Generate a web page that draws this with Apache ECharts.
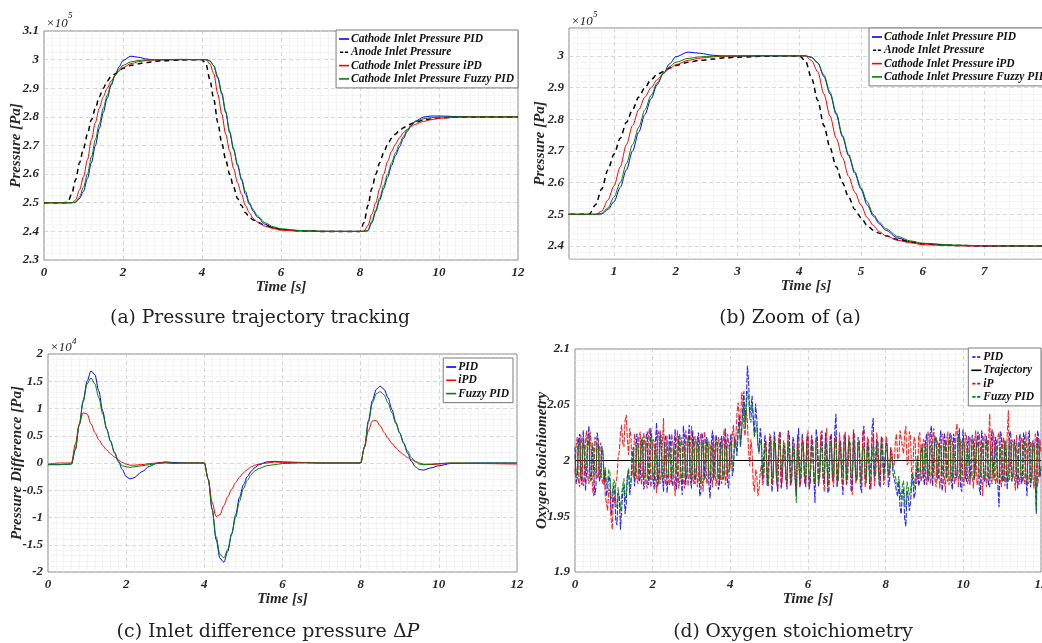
<!DOCTYPE html>
<html><head><meta charset="utf-8">
<script src="https://cdn.jsdelivr.net/npm/echarts@6/dist/echarts.min.js"></script>
<style>html,body{margin:0;padding:0;background:#fff}#c{width:1042px;height:643px}</style>
</head><body><div id="c"></div>
<script>
// ---------- Panel (a)/(b): pressures, x10^5 Pa ----------
const tP = [0,0.5,0.6,0.7,0.8,0.9,1.0,1.1,1.2,1.3,1.4,1.5,1.6,1.7,1.8,1.9,2.0,2.2,2.4,2.6,2.8,3.0,3.5,4.0,4.1,4.2,4.3,4.4,4.5,4.6,4.7,4.8,4.9,5.0,5.1,5.2,5.3,5.4,5.6,5.8,6.0,6.5,7.0,7.5,8.0,8.1,8.2,8.3,8.4,8.5,8.6,8.7,8.8,8.9,9.0,9.1,9.2,9.3,9.4,9.6,9.8,10.0,10.5,11,12];
const pPID   = [2.5,2.5,2.5,2.5,2.501,2.515,2.54,2.585,2.64,2.70,2.76,2.815,2.865,2.91,2.945,2.975,2.997,3.012,3.008,3.002,2.999,2.999,3.0,3.0,3.0,2.996,2.978,2.935,2.88,2.815,2.745,2.685,2.63,2.58,2.53,2.495,2.47,2.45,2.425,2.413,2.407,2.402,2.4,2.4,2.4,2.4,2.402,2.43,2.47,2.51,2.55,2.59,2.63,2.665,2.695,2.725,2.75,2.77,2.785,2.799,2.803,2.803,2.801,2.8,2.8];
const pAnode = [2.5,2.5,2.501,2.53,2.58,2.64,2.69,2.74,2.79,2.83,2.87,2.90,2.925,2.942,2.95,2.962,2.97,2.98,2.986,2.99,2.994,2.996,2.999,3.0,2.985,2.93,2.86,2.78,2.71,2.65,2.60,2.555,2.515,2.49,2.465,2.45,2.44,2.432,2.42,2.413,2.406,2.402,2.4,2.4,2.4,2.43,2.49,2.55,2.60,2.64,2.675,2.705,2.725,2.74,2.752,2.762,2.77,2.776,2.781,2.788,2.793,2.796,2.799,2.8,2.8];
const pIPD   = [2.5,2.5,2.5,2.5,2.51,2.545,2.59,2.65,2.72,2.78,2.83,2.87,2.90,2.925,2.945,2.96,2.972,2.986,2.993,2.997,2.999,3.0,3.001,3.0,3.0,2.985,2.95,2.88,2.81,2.74,2.68,2.62,2.57,2.53,2.49,2.465,2.445,2.433,2.418,2.41,2.404,2.401,2.4,2.4,2.4,2.401,2.42,2.46,2.50,2.55,2.60,2.645,2.68,2.705,2.727,2.745,2.757,2.767,2.774,2.784,2.79,2.795,2.799,2.8,2.8];
const pFuzzy = [2.5,2.5,2.5,2.5,2.503,2.52,2.555,2.60,2.66,2.72,2.775,2.83,2.875,2.915,2.945,2.966,2.98,2.992,2.997,2.999,3.0,3.0,3.0,3.0,3.0,2.995,2.978,2.94,2.885,2.82,2.75,2.69,2.635,2.585,2.54,2.5,2.475,2.455,2.43,2.416,2.409,2.403,2.401,2.4,2.4,2.4,2.404,2.435,2.475,2.517,2.56,2.60,2.64,2.675,2.705,2.732,2.755,2.772,2.783,2.793,2.797,2.799,2.8,2.8,2.8];
const namesA = ['Cathode Inlet Pressure PID','Anode Inlet Pressure','Cathode Inlet Pressure iPD','Cathode Inlet Pressure Fuzzy PID'];

// ---------- Panel (c): pressure difference, x10^4 Pa ----------
const tD = [0,0.3,0.6,0.7,0.8,0.9,1.0,1.1,1.2,1.3,1.4,1.5,1.6,1.7,1.8,1.9,2.0,2.1,2.2,2.4,2.6,2.8,3.0,3.2,3.5,4.0,4.1,4.2,4.3,4.4,4.5,4.6,4.7,4.8,4.9,5.0,5.1,5.2,5.3,5.4,5.6,5.8,6.0,6.5,7.0,7.5,8.0,8.1,8.2,8.3,8.4,8.5,8.6,8.7,8.8,8.9,9.0,9.1,9.2,9.3,9.4,9.5,9.6,9.8,10.0,10.3,11,12];
const dPID   = [-0.03,-0.03,-0.02,0.25,0.7,1.15,1.5,1.69,1.62,1.32,0.95,0.63,0.4,0.2,0.04,-0.12,-0.25,-0.29,-0.27,-0.16,-0.06,0.0,0.02,0.01,0.0,0.0,-0.3,-0.85,-1.4,-1.75,-1.82,-1.62,-1.3,-0.95,-0.63,-0.4,-0.25,-0.15,-0.08,-0.03,0.02,0.03,0.02,0.01,0.0,0.0,0.0,0.3,0.78,1.15,1.35,1.41,1.35,1.2,0.98,0.75,0.55,0.36,0.18,0.03,-0.07,-0.12,-0.13,-0.09,-0.05,-0.01,0.0,0.0];
const dIPD   = [-0.02,0.0,0.0,0.35,0.72,0.92,0.9,0.72,0.56,0.43,0.32,0.24,0.17,0.11,0.06,0.01,-0.02,-0.04,-0.04,-0.03,-0.01,0.0,0.01,-0.01,0.0,0.0,-0.3,-0.72,-0.98,-0.95,-0.78,-0.62,-0.48,-0.36,-0.26,-0.18,-0.12,-0.07,-0.04,-0.02,0.0,0.02,0.01,0.01,0.0,0.0,0.0,0.3,0.6,0.77,0.78,0.68,0.56,0.45,0.36,0.28,0.21,0.15,0.1,0.06,0.03,0.0,-0.02,-0.03,-0.02,0.0,-0.01,-0.02];
const dFuzzy = [-0.03,-0.03,-0.02,0.25,0.7,1.12,1.45,1.56,1.45,1.2,0.9,0.62,0.4,0.18,0.02,-0.05,-0.07,-0.08,-0.07,-0.05,-0.03,-0.01,0.0,0.0,0.0,0.0,-0.3,-0.85,-1.35,-1.68,-1.74,-1.58,-1.3,-1.0,-0.7,-0.47,-0.32,-0.21,-0.14,-0.1,-0.05,-0.03,-0.01,0.0,0.0,0.0,0.0,0.3,0.75,1.1,1.27,1.31,1.25,1.1,0.92,0.72,0.55,0.37,0.22,0.1,0.02,-0.02,-0.03,-0.02,-0.01,0.0,0.0,0.0];

// ---------- Panel (d): oxygen stoichiometry ----------
// "A" samples at t = 0, 0.06, 0.12 ... 12 s; "B" samples at t = 0.03, 0.09 ... 11.97 s
const o2Start = 0, o2Step = 0.06, o2Half = 0.03;
const o2PID = [2.012,1.985,2.024,1.978,2.008,1.991,2.031,1.982,2.015,1.976,
2.018,1.988,2.006,1.992,1.975,1.982,1.958,1.972,1.942,1.968,
1.955,1.978,1.962,1.991,1.978,2.012,1.988,2.021,1.984,2.015,
1.979,2.026,1.986,2.019,1.974,2.034,1.989,2.011,1.972,2.023,
1.983,2.017,1.977,2.028,1.985,2.009,1.969,2.021,1.988,2.032,
1.975,2.014,1.987,2.025,1.971,2.018,1.984,2.012,1.966,2.027,
1.982,2.016,1.978,2.022,1.986,2.013,1.975,2.024,1.992,2.018,
2.028,2.012,2.048,2.035,2.085,2.041,2.058,2.022,2.038,2.008,
2.019,1.984,2.012,1.976,2.021,1.981,2.015,1.972,2.026,1.987,
2.011,1.974,2.023,1.982,2.017,1.968,2.029,1.985,2.014,1.977,
2.022,1.981,2.016,1.962,2.019,1.986,2.027,1.979,2.013,1.973,
2.024,1.984,2.042,1.977,2.018,1.969,2.021,1.988,2.015,1.975,
2.026,1.982,2.017,1.971,2.031,1.986,2.013,1.979,2.038,1.984,
2.016,1.976,2.023,1.985,2.012,1.981,2.005,1.988,1.972,1.981,
1.952,1.975,1.941,1.968,1.962,1.985,1.971,1.998,1.982,2.015,
1.978,2.024,1.985,2.031,1.976,2.019,1.984,2.027,1.979,2.016,
1.983,2.025,1.974,2.018,1.987,2.029,1.972,2.014,1.981,2.022,
1.977,2.017,1.985,2.026,1.969,2.021,1.983,2.012,1.976,2.028,
1.984,2.015,1.958,2.023,1.981,2.018,1.973,2.026,1.986,2.013,
1.975,2.024,1.982,2.019,1.968,2.027,1.985,2.016,1.952,2.021,1.992];
const o2PIDb = [1.979,2.018,1.986,2.027,1.973,2.021,1.988,2.014,1.969,2.025,
1.981,2.013,1.978,1.968,1.986,1.951,1.977,1.946,1.971,1.938,
1.973,1.952,1.986,1.969,2.003,1.977,2.024,1.981,2.019,1.974,
2.021,1.978,2.029,1.983,2.016,1.976,2.027,1.985,2.018,1.971,
2.024,1.981,2.013,1.974,2.022,1.987,2.031,1.978,2.016,1.983,
2.027,1.979,2.019,1.968,2.025,1.984,2.021,1.977,2.016,1.982,
2.023,1.974,2.018,1.983,2.029,1.979,2.015,1.986,2.021,2.004,
2.041,2.026,2.062,2.052,2.071,2.047,2.036,2.051,2.015,2.029,
1.983,2.023,1.977,2.018,1.972,2.026,1.984,2.019,1.975,2.014,
1.985,2.027,1.978,2.021,1.983,2.016,1.976,2.024,1.981,2.019,
1.974,2.022,1.985,2.028,1.977,2.017,1.983,2.025,1.971,2.019,
1.982,2.027,1.976,2.014,1.985,2.023,1.979,2.018,1.972,2.026,
1.986,2.021,1.977,2.024,1.983,2.016,1.974,2.029,1.985,2.019,
1.979,2.022,1.984,2.017,1.976,2.011,1.988,1.979,1.968,1.958,
1.971,1.947,1.973,1.955,1.979,1.966,1.988,1.977,2.008,1.985,
2.019,1.981,2.026,1.977,2.022,1.986,2.018,1.973,2.025,1.984,
2.017,1.979,2.024,1.982,2.021,1.976,2.028,1.985,2.016,1.978,
2.023,1.984,2.019,1.975,2.027,1.981,2.022,1.978,2.016,1.985,
2.021,1.977,2.026,1.983,2.018,1.974,2.024,1.981,2.019,1.986,
2.017,1.979,2.025,1.984,2.022,1.976,2.018,1.983,2.027,1.985];
const o2IP = [1.988,2.021,1.976,2.015,1.983,2.027,1.979,2.012,1.968,2.019,
1.984,2.016,1.979,1.968,1.955,1.972,1.938,1.962,1.985,2.008,
2.032,2.012,2.041,2.005,2.022,1.985,2.018,1.979,2.026,1.988,
2.014,1.975,2.029,1.983,2.017,1.971,2.024,1.986,2.038,1.978,
2.021,1.982,2.015,1.968,2.027,1.984,2.012,1.975,2.019,1.987,
2.031,1.979,2.016,1.985,2.024,1.972,2.018,1.981,2.013,1.976,
2.022,1.984,2.017,1.979,2.028,1.986,2.015,2.004,2.032,2.018,
2.052,2.031,2.058,2.022,2.035,1.995,2.008,1.972,1.988,1.975,
1.996,1.982,2.018,1.977,2.021,1.986,2.012,1.973,2.026,1.984,
2.015,1.978,2.022,1.985,2.017,1.971,2.024,1.982,2.013,1.976,
2.027,1.984,2.016,1.979,2.021,1.987,2.014,1.972,2.029,1.983,
2.018,1.976,2.023,1.985,2.011,1.978,2.026,1.982,2.017,1.969,
2.022,1.986,2.015,1.977,2.028,1.983,2.019,1.974,2.024,1.987,
2.013,1.979,2.021,1.984,2.016,1.991,2.008,1.996,2.024,2.003,
2.028,2.006,2.031,1.998,2.022,1.989,2.018,1.982,2.025,1.986,
2.017,1.978,2.023,1.985,2.029,1.976,2.014,1.983,2.021,1.971,
2.026,1.984,2.018,1.979,2.033,1.986,2.015,1.977,2.022,1.983,
2.019,1.975,2.027,1.982,2.014,1.968,2.024,1.985,2.042,1.979,
2.017,1.984,2.025,1.976,2.021,1.987,2.045,1.981,2.016,1.973,
2.023,1.985,2.018,1.979,2.027,1.982,2.014,1.975,2.022,1.986,2.008];
const o2IPb = [2.014,1.981,2.023,1.977,2.018,1.984,2.026,1.975,2.021,1.986,
2.012,1.983,1.991,1.962,1.975,1.948,1.967,1.979,2.002,2.024,
2.015,2.036,2.018,2.029,1.993,2.024,1.983,2.021,1.978,2.025,
1.981,2.023,1.976,2.019,1.985,2.027,1.979,2.016,1.983,2.022,
1.978,2.024,1.986,2.018,1.975,2.021,1.982,2.027,1.977,2.015,
1.984,2.022,1.976,2.019,1.983,2.026,1.979,2.017,1.985,2.023,
1.977,2.021,1.983,2.016,1.978,2.024,1.992,2.021,2.011,2.042,
2.038,2.061,2.029,2.045,2.008,2.019,1.979,1.992,1.968,1.989,
1.978,2.015,1.983,2.024,1.979,2.019,1.985,2.022,1.976,2.018,
1.983,2.025,1.977,2.016,1.984,2.023,1.978,2.019,1.986,2.021,
1.975,2.023,1.982,2.018,1.979,2.026,1.985,2.017,1.976,2.022,
1.984,2.019,1.977,2.025,1.983,2.016,1.978,2.023,1.985,2.028,
1.979,2.017,1.984,2.024,1.976,2.021,1.983,2.018,1.977,2.025,
1.985,2.019,1.978,2.022,1.986,2.012,1.994,2.018,2.001,2.027,
2.012,2.024,1.996,2.026,1.984,2.021,1.979,2.023,1.981,2.019,
1.984,2.026,1.979,2.021,1.983,2.018,1.975,2.024,1.986,2.019,
1.978,2.023,1.984,2.027,1.976,2.019,1.983,2.025,1.979,2.021,
1.985,2.017,1.978,2.024,1.983,2.021,1.976,2.018,1.984,2.026,
1.979,2.022,1.985,2.016,1.977,2.024,1.982,2.019,1.986,2.023,
1.978,2.021,1.984,2.026,1.979,2.017,1.985,2.024,1.977,2.019];
const o2Fuzzy = [2.005,1.989,2.018,1.982,2.013,1.987,2.021,1.984,2.011,1.991,
2.016,1.985,2.009,1.994,1.981,1.989,1.968,1.981,1.958,1.975,
1.969,1.984,1.972,1.993,1.981,2.008,1.989,2.016,1.985,2.021,
1.988,2.014,1.983,2.019,1.986,2.012,1.979,2.023,1.987,2.015,
1.984,2.018,1.981,2.011,1.989,2.024,1.983,2.013,1.986,2.017,
1.982,2.021,1.988,2.012,1.979,2.016,1.985,2.019,1.983,2.011,
1.987,2.015,1.981,2.018,1.986,2.012,1.991,2.017,1.996,2.012,
2.025,2.014,2.042,2.028,2.062,2.038,2.051,2.021,2.032,2.006,
2.015,1.985,2.011,1.979,2.017,1.984,2.012,1.981,2.019,1.986,
2.013,1.982,2.016,1.987,2.011,1.962,2.018,1.984,2.014,1.981,
2.017,1.986,2.012,1.979,2.021,1.984,2.015,1.988,2.011,1.982,
2.016,1.985,2.019,1.981,2.013,1.987,2.017,1.983,2.012,1.986,
2.018,1.982,2.014,1.985,2.011,1.979,2.016,1.984,2.013,1.988,
2.015,1.983,2.012,1.986,2.008,1.989,2.002,1.991,1.981,1.986,
1.965,1.982,1.958,1.976,1.972,1.989,1.984,2.004,1.988,2.013,
1.985,2.017,1.982,2.014,1.987,2.021,1.983,2.012,1.986,2.016,
1.981,2.019,1.985,2.013,1.988,2.024,1.982,2.015,1.986,2.011,
1.984,2.017,1.981,2.012,1.987,2.016,1.983,2.019,1.985,2.013,
1.982,2.018,1.986,2.011,1.984,2.015,1.981,2.017,1.988,2.012,
1.983,2.016,1.985,2.014,1.981,2.019,1.986,2.013,1.955,2.015,1.995];
const o2FuzzyB = [1.986,2.014,1.983,2.017,1.988,2.012,1.981,2.016,1.987,2.013,
1.989,2.011,1.984,1.978,1.992,1.966,1.983,1.961,1.976,1.955,
1.978,1.963,1.987,1.975,1.998,1.984,2.013,1.986,2.017,1.983,
2.016,1.984,2.021,1.982,2.013,1.987,2.018,1.983,2.014,1.986,
2.017,1.982,2.012,1.988,2.019,1.981,2.015,1.984,2.021,1.987,
2.013,1.983,2.018,1.986,2.011,1.982,2.016,1.988,2.014,1.984,
2.018,1.986,2.012,1.983,2.016,1.988,2.013,1.994,2.019,2.008,
2.033,2.026,2.052,2.044,2.058,2.034,2.041,2.027,2.013,2.018,
1.988,2.016,1.983,2.012,1.986,2.018,1.981,2.014,1.987,2.011,
1.984,2.017,1.982,2.013,1.986,2.019,1.983,2.012,1.988,2.016,
1.983,2.014,1.987,2.018,1.982,2.012,1.985,2.016,1.981,2.013,
1.987,2.017,1.983,2.011,1.986,2.015,1.982,2.018,1.984,2.012,
1.985,2.016,1.981,2.013,1.988,2.017,1.983,2.012,1.986,2.015,
1.982,2.018,1.985,2.011,1.987,2.004,1.993,1.985,1.976,1.972,
1.978,1.962,1.981,1.969,1.985,1.975,1.993,1.986,2.009,1.984,
2.016,1.983,2.012,1.987,2.018,1.982,2.014,1.986,2.011,1.984,
2.017,1.981,2.013,1.986,2.016,1.983,2.019,1.985,2.012,1.988,
2.015,1.982,2.018,1.984,2.011,1.987,2.016,1.983,2.013,1.986,
2.017,1.984,2.012,1.981,2.018,1.985,2.014,1.982,2.016,1.987,
2.013,1.983,2.017,1.986,2.012,1.981,2.015,1.984,2.018,1.986];
const o2TrajT = [0, 12];
const o2TrajV = [2, 2];

const FF = '"Liberation Serif","Times New Roman",serif';
const BLUE = '#0000ff', RED = '#ff0000', GREEN = '#008000', BLACK = '#000000';

function pairs(t, v) { return t.map((x, i) => [x, v[i]]); }
// interleave the A samples (on the 0.06 s grid) with the B samples (half a step later)
function interleave(a, b) {
  const out = [];
  a.forEach((y, i) => {
    const t = o2Start + i * o2Step;
    out.push([+t.toFixed(3), y]);
    if (i < b.length) out.push([+(t + o2Half).toFixed(3), b[i]]);
  });
  return out;
}
const trim = v => String(+(+v).toFixed(4));

const labelStyle = {color:'#262626', fontFamily:FF, fontWeight:'bold', fontStyle:'italic', fontSize:13};
const nameStyle = {color:'#262626', fontFamily:FF, fontWeight:'bold', fontStyle:'italic', fontSize:15};
const split = {show:true, showMinLine:false, showMaxLine:false, lineStyle:{color:'#cdcdcd', type:[4,3], width:0.8}};
const minorSplit = {show:true, lineStyle:{color:'#ededed', width:0.6}};

function xAxis(gi, min, max, interval, minorN, opts) {
  return Object.assign({
    type:'value', gridIndex:gi, min, max, interval,
    name:'Time [s]', nameLocation:'middle', nameGap:20, nameMoveOverlap:false, nameTextStyle:nameStyle,
    axisLine:{show:false}, axisTick:{show:false},
    axisLabel:Object.assign({margin:6, formatter:trim}, labelStyle),
    splitLine:split, minorTick:{show:false, splitNumber:minorN}, minorSplitLine:minorSplit
  }, opts || {});
}
function yAxis(gi, min, max, interval, minorN, name, gap, opts) {
  return Object.assign({
    type:'value', gridIndex:gi, min, max, interval,
    name, nameLocation:'middle', nameGap:gap, nameRotate:90, nameMoveOverlap:false, nameTextStyle:nameStyle,
    axisLine:{show:false}, axisTick:{show:false},
    axisLabel:Object.assign({margin:5, formatter:trim}, labelStyle),
    splitLine:split, minorTick:{show:false, splitNumber:minorN}, minorSplitLine:minorSplit
  }, opts || {});
}
function line(name, xi, data, color, width, dash) {
  return {type:'line', name, xAxisIndex:xi, yAxisIndex:xi, data, symbol:'none', showSymbol:false,
    smooth:0.3, smoothMonotone:'x', animation:false, silent:true,
    lineStyle:{color, width, type:dash || 'solid'}, itemStyle:{color}};
}
function noisy(name, data, color) {
  return {type:'line', name, xAxisIndex:3, yAxisIndex:3, data, symbol:'none', showSymbol:false,
    animation:false, silent:true,
    lineStyle:{color, width:1.1, type:[5,1.5], opacity:0.85}, itemStyle:{color}};
}
const gridBase = {show:true, borderColor:'#8a8a8a', borderWidth:1, backgroundColor:'transparent', containLabel:false, outerBoundsMode:'none'};
const ICON_SOLID = 'rect';
const ICON_DASH = 'path://M0,0h4v2h-4zM6,0h4v2h-4z';
const legendBase = {orient:'vertical', selectedMode:false, itemWidth:10, itemHeight:1.6, itemGap:1.3,
  padding:[3,4,3,3], backgroundColor:'#fff', borderColor:'#7a7a7a', borderWidth:1, borderRadius:0,
  textStyle:{color:'#111', fontFamily:FF, fontWeight:'bold', fontStyle:'italic', fontSize:11.5, lineHeight:12, padding:[0,0,0,-3]}};
const item = (name, icon) => ({name, icon});

const series = [];
[0, 1].forEach(k => {
  series.push(line(namesA[0], k, pairs(tP, pPID), BLUE, 1));
  series.push(line(namesA[1], k, pairs(tP, pAnode), BLACK, 1.5, [5, 4]));
  series.push(line(namesA[2], k, pairs(tP, pIPD), RED, 1));
  series.push(line(namesA[3], k, pairs(tP, pFuzzy), GREEN, 1));
});
series.push(line('PID', 2, pairs(tD, dPID), BLUE, 1));
series.push(line('iPD', 2, pairs(tD, dIPD), RED, 1));
series.push(line('Fuzzy PID', 2, pairs(tD, dFuzzy), GREEN, 1));
series.push({type:'line', name:'Trajectory', xAxisIndex:3, yAxisIndex:3, data:pairs(o2TrajT, o2TrajV),
  symbol:'none', animation:false, silent:true, lineStyle:{color:BLACK, width:1.2}, itemStyle:{color:BLACK}});
series.push(noisy('PID\u00a0', interleave(o2PID, o2PIDb), BLUE));
series.push(noisy('iP', interleave(o2IP, o2IPb), RED));
series.push(noisy('Fuzzy PID\u00a0', interleave(o2Fuzzy, o2FuzzyB), GREEN));

const onlyTenth = v => Math.abs(v * 10 - Math.round(v * 10)) < 1e-6 ? String(+(+v).toFixed(1)) : '';
const onlyInt = v => Math.abs(v - Math.round(v)) < 1e-6 ? String(Math.round(v)) : '';

function txt(x, y, text, font, align) {
  return {type:'text', x, y, silent:true, style:{text, font, fill:'#222', align:align || 'left', verticalAlign:'middle', textAlign:align || 'left', textVerticalAlign:'middle'}};
}
const CAPF = '"DejaVu Serif","Liberation Serif",serif';
const capFont = '18.7px ' + CAPF;
const multFont = 'italic 13px "Liberation Serif","Times New Roman",serif';
const expFont = 'italic 9px "Liberation Serif","Times New Roman",serif';

const option = {
  backgroundColor:'#fff',
  animation:false,
  grid:[
    Object.assign({left:44, top:31, width:474, height:229}, gridBase),
    Object.assign({left:569, top:28, width:474, height:231}, gridBase),
    Object.assign({left:48, top:354, width:469, height:218}, gridBase),
    Object.assign({left:575, top:349, width:466, height:223}, gridBase)
  ],
  xAxis:[
    xAxis(0, 0, 12, 2, 10),
    xAxis(1, 0.27, 7.95, null, 5, {splitNumber:8, axisLabel:Object.assign({margin:6, formatter:onlyInt, showMinLabel:false, showMaxLabel:false}, labelStyle)}),
    xAxis(2, 0, 12, 2, 10),
    xAxis(3, 0, 12, 2, 10)
  ],
  yAxis:[
    yAxis(0, 2.3, 3.1, 0.1, 4, 'Pressure [Pa]', 20),
    yAxis(1, 2.359, 3.088, null, 5, 'Pressure [Pa]', 21, {splitNumber:7, axisLabel:Object.assign({margin:5, formatter:onlyTenth, showMinLabel:false, showMaxLabel:false}, labelStyle)}),
    yAxis(2, -2, 2, 0.5, 5, 'Pressure Difference [Pa]', 23),
    yAxis(3, 1.9, 2.1, 0.05, 10, 'Oxygen Stoichiometry', 25)
  ],
  legend:[
    Object.assign({right:524, top:30, data:[item(namesA[0], ICON_SOLID), item(namesA[1], ICON_DASH), item(namesA[2], ICON_SOLID), item(namesA[3], ICON_SOLID)]}, legendBase),
    Object.assign({left:869, top:28, data:[item(namesA[0], ICON_SOLID), item(namesA[1], ICON_DASH), item(namesA[2], ICON_SOLID), item(namesA[3], ICON_SOLID)]}, legendBase),
    Object.assign({right:529, top:358, data:[item('PID', ICON_SOLID), item('iPD', ICON_SOLID), item('Fuzzy PID', ICON_SOLID)]}, legendBase),
    Object.assign({right:1, top:348, data:[item('PID\u00a0', ICON_DASH), item('Trajectory', ICON_SOLID), item('iP', ICON_DASH), item('Fuzzy PID\u00a0', ICON_DASH)]}, legendBase)
  ],
  graphic:[
    txt(46, 24, '\u00d710', multFont), txt(68, 16, '5', expFont),
    txt(571, 22, '\u00d710', multFont), txt(593, 15, '5', expFont),
    txt(50, 348, '\u00d710', multFont), txt(72, 342, '4', expFont),
    txt(260, 318, '(a) Pressure trajectory tracking', capFont, 'center'),
    txt(790, 318, '(b) Zoom of (a)', capFont, 'center'),
    {type:'text', x:268, y:632, silent:true, style:{text:'(c) Inlet difference pressure \u0394{it|P}', font:'19px ' + CAPF, fill:'#222', align:'center', verticalAlign:'middle', textAlign:'center', textVerticalAlign:'middle', rich:{it:{fontStyle:'italic', fontSize:19, fontFamily:CAPF, fill:'#222'}}}},
    txt(793, 632, '(d) Oxygen stoichiometry', capFont, 'center')
  ],
  series
};
const chart = echarts.init(document.getElementById('c'), null, {renderer:'canvas'});
chart.setOption(option);
</script></body></html>
